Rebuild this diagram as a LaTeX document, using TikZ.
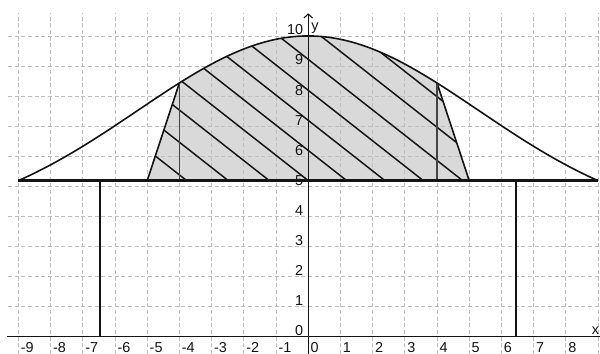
\documentclass[tikz,border=0pt]{standalone}
\usepackage{fontspec}
\setmainfont{Liberation Sans}
\usetikzlibrary{arrows.meta}
\definecolor{gridc}{RGB}{190,190,190}
\definecolor{fillc}{RGB}{217,217,217}
\definecolor{inkc}{RGB}{20,20,20}
\def\bb{5.19}
\def\cc{56}
\begin{document}
\begin{tikzpicture}[x=24.15pt,y=22.5525pt,
  declare function={f(\x)=\bb+(10-\bb)*(exp(-(\x)*(\x)/\cc)-exp(-81/\cc))/(1-exp(-81/\cc));},
  gridl/.style={draw=gridc,line width=0.7pt,dash pattern=on 3pt off 2pt},
  axisl/.style={draw=inkc,line width=0.8pt},
  curvel/.style={draw=inkc,line width=1.2pt},
  hatchl/.style={draw=inkc,line width=1.1pt},
  basel/.style={draw=inkc,line width=1.9pt},
  thinv/.style={draw=inkc!80,line width=0.8pt},
  dropl/.style={draw=inkc,line width=1.2pt},
  lab/.style={inner sep=0pt,text=inkc,font=\fontsize{10.8}{12}\selectfont},
  xlab/.style={lab,anchor=west},
  ylab/.style={lab,anchor=east}]
\useasboundingbox (-9.5714,-0.5753) rectangle (9.0621,11.197);
% key points
\coordinate (BL) at (-9,\bb);
\coordinate (BR) at (9,\bb);
\coordinate (L5) at (-5,\bb);
\coordinate (R5) at (5,\bb);
\coordinate (L4b) at (-4,\bb);
\coordinate (R4b) at (4,\bb);
\coordinate (L4t) at (-4,{f(-4)});
\coordinate (R4t) at (4,{f(4)});
\coordinate (L6t) at (-6.46,\bb);
\coordinate (L6b) at (-6.46,0);
\coordinate (R6t) at (6.46,\bb);
\coordinate (R6b) at (6.46,0);
\coordinate (XA0) at (-9.345,0);
\coordinate (XA1) at (9.062,0);
\coordinate (YA0) at (0,-0.575);
\coordinate (YA1) at (0,10.755);
% shaded region
\path[save path=\regionp] (L5) -- (L4t) -- plot[domain=-4:4,samples=60,smooth] (\x,{f(\x)}) -- (R5) -- cycle;
\fill[fillc,use path=\regionp];
% grid
\foreach \k in {-9,...,-1,1,2,...,9} \draw[gridl] (\k,-0.575) -- (\k,10.77);
\foreach \k in {1,...,10} \draw[gridl] (-9.32,\k) -- (9.062,\k);
% hatching
\begin{scope}
\clip[use path=\regionp];
\foreach \c in {-3.773,-2.481,-1.208,0.003,1.196,2.385,3.575,4.798,6.112,7.323}
  \draw[hatchl] ({\c-9},{\bb+9*0.8406}) -- ({\c+1},{\bb-0.8406});
\end{scope}
% region edges
\draw[curvel] (L5) -- (L4t);
\draw[curvel] (R5) -- (R4t);
\draw[thinv] (L4b) -- (L4t);
\draw[thinv] (R4b) -- (R4t);
% axes
\draw[axisl] (XA0) -- (XA1);
\draw[axisl,-{Straight Barb[length=3pt,width=6.5pt]}] (YA0) -- (YA1);
% drops
\draw[dropl] (L6t) -- (L6b);
\draw[dropl] (R6t) -- (R6b);
% bell curve and base line
\draw[curvel] plot[domain=-9:9,samples=121,smooth] (\x,{f(\x)});
\draw[basel] (BL) -- (BR);
% labels
\foreach \k in {-9,...,8} \node[xlab] (xl\k) at ({\k+0.07},-0.36) {\k};
\foreach \k in {0,...,10} \node[ylab] (yl\k) at (-0.15,{\k+0.2}) {\k};
\node[lab,anchor=east] (xname) at (9.04,0.2) {x};
\node[lab,anchor=west] (yname) at (0.09,10.26) {y};
\end{tikzpicture}
\end{document}
